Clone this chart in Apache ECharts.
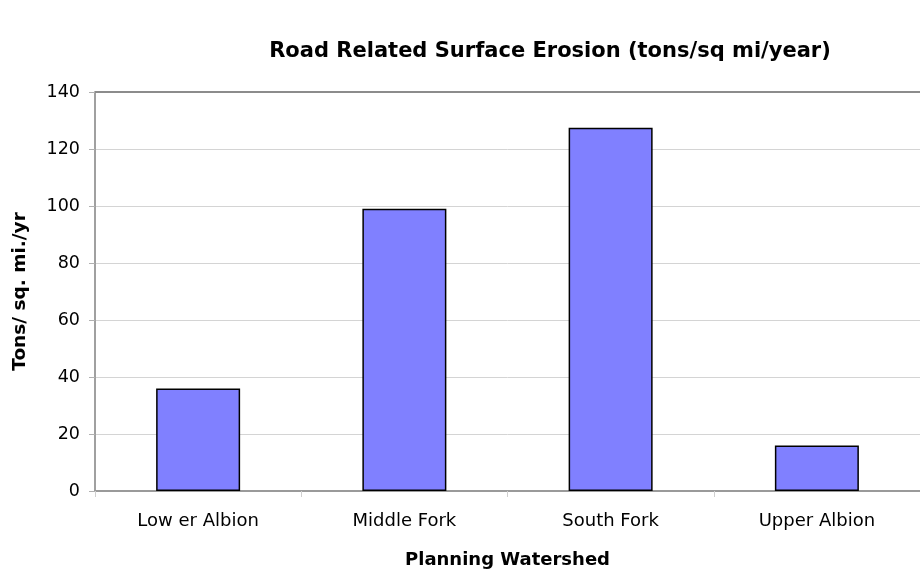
<!DOCTYPE html>
<html>
<head>
<meta charset="utf-8">
<script src="https://cdn.jsdelivr.net/npm/echarts@6/dist/echarts.min.js"></script>
<style>
  html, body { margin: 0; padding: 0; background: #fff; }
  #chart { width: 920px; height: 574px; }
</style>
</head>
<body>
<div id="chart"></div>
<script>
// Planning watersheds and their road-related surface erosion
const watersheds = ['Low er Albion', 'Middle Fork', 'South Fork', 'Upper Albion'];
const erosion = [36, 99, 127.5, 16];
const yTicks = { min: 0, max: 140, interval: 20 };

const FONT = '"DejaVu Sans", Verdana, sans-serif';

const chart = echarts.init(document.getElementById('chart'), null, { renderer: 'canvas' });

chart.setOption({
  animation: false,
  backgroundColor: '#ffffff',
  title: {
    text: 'Road Related Surface Erosion (tons/sq mi/year)',
    left: 545,
    top: 36,
    textAlign: 'center',
    textStyle: { fontFamily: FONT, fontSize: 21, fontWeight: 'bold', color: '#000' }
  },
  grid: { left: 95, right: 0, top: 92, bottom: 80, containLabel: false },
  xAxis: {
    type: 'category',
    data: watersheds,
    name: 'Planning Watershed',
    nameLocation: 'middle',
    nameGap: 60,
    nameTextStyle: { fontFamily: FONT, fontSize: 18, fontWeight: 'bold', color: '#000' },
    axisLine: { lineStyle: { color: '#9a9a9a', width: 2 } },
    axisTick: { show: true, alignWithLabel: false, length: 6, lineStyle: { color: '#cfcfcf', width: 1 } },
    axisLabel: { fontFamily: FONT, fontSize: 18, color: '#000', margin: 21 },
    splitLine: { show: false }
  },
  yAxis: {
    type: 'value',
    min: yTicks.min,
    max: yTicks.max,
    interval: yTicks.interval,
    name: 'Tons/ sq. mi./yr',
    nameLocation: 'middle',
    nameGap: 65,
    nameRotate: 90,
    nameTextStyle: { fontFamily: FONT, fontSize: 18.5, fontWeight: 'bold', color: '#000' },
    axisLine: { show: true, lineStyle: { color: '#a0a0a0', width: 2 } },
    axisTick: { show: true, length: 6, lineStyle: { color: '#b0b0b0', width: 1 } },
    axisLabel: { fontFamily: FONT, fontSize: 17.5, color: '#000', margin: 15 },
    splitLine: { show: true, lineStyle: { color: '#d4d4d4', width: 1 } }
  },
  series: [{
    type: 'bar',
    data: erosion,
    barWidth: 84,
    itemStyle: { color: '#8080ff', borderColor: '#000', borderWidth: 1.5 },
    // top frame line of the plot area
    markLine: {
      silent: true,
      symbol: 'none',
      label: { show: false },
      lineStyle: { color: '#8c8c8c', width: 2, type: 'solid' },
      data: [{ yAxis: yTicks.max }]
    }
  }]
});
</script>
</body>
</html>
